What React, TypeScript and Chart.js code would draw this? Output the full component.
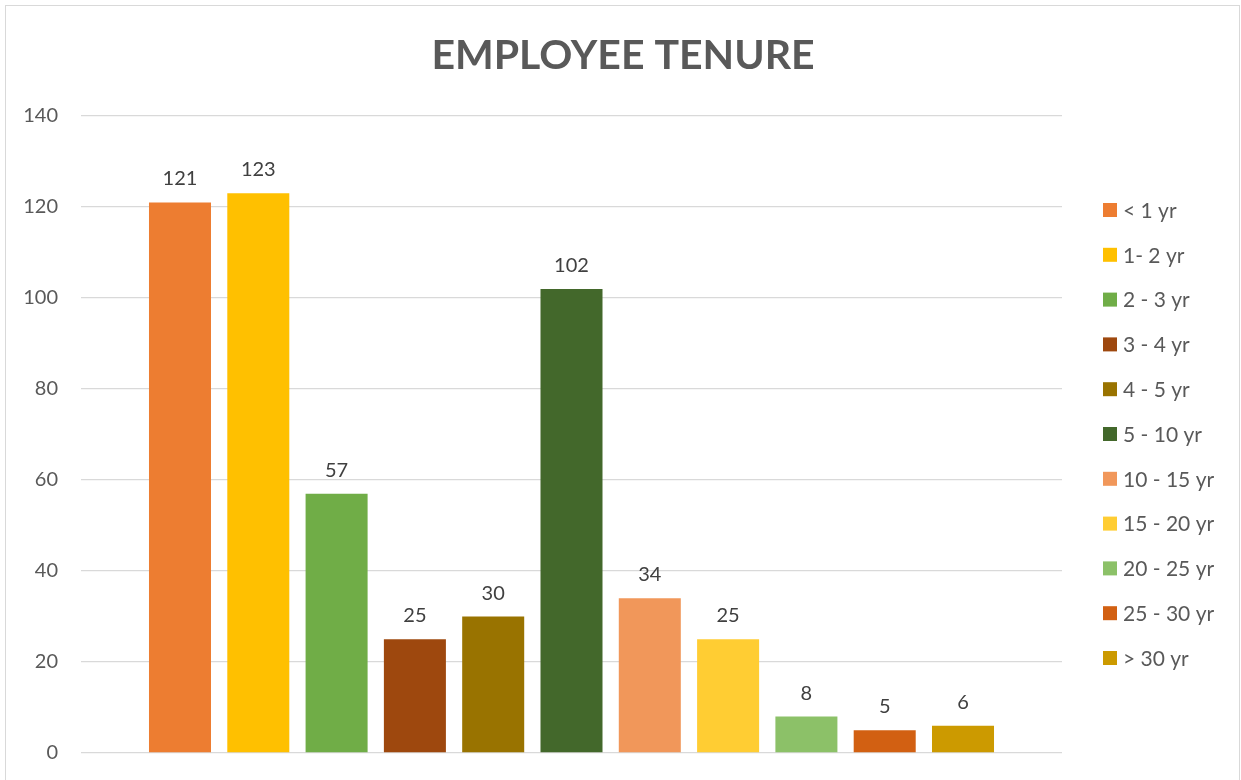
import React, { useEffect, useRef } from "react";
import { Chart, registerables } from "chart.js";

Chart.register(...registerables);

const seriesNames = [
  "< 1 yr",
  "1- 2 yr",
  "2 - 3 yr",
  "3 - 4 yr",
  "4 - 5 yr",
  "5 - 10 yr",
  "10 - 15 yr",
  "15 - 20 yr",
  "20 - 25 yr",
  "25 - 30 yr",
  "> 30 yr",
];
const seriesValues = [121, 123, 57, 25, 30, 102, 34, 25, 8, 5, 6];
const seriesColors = [
  "#ED7D31",
  "#FFC000",
  "#70AD47",
  "#9E480E",
  "#997300",
  "#43682B",
  "#F1975A",
  "#FFCD33",
  "#8CC168",
  "#D26012",
  "#CC9A00",
];
const categories = [""];
const yTicks = { min: 0, max: 140, step: 20 };
const chartTitle = "EMPLOYEE TENURE";

const FONT = "Lato, 'Open Sans', sans-serif";

const decorPlugin = {
  id: "decor",
  beforeDraw(chart: any) {
    const ctx = chart.ctx;
    ctx.save();
    ctx.fillStyle = "#ffffff";
    ctx.fillRect(0, 0, chart.width, chart.height);
    ctx.strokeStyle = "#d9d9d9";
    ctx.lineWidth = 1;
    ctx.strokeRect(5.5, 5.5, 1234, 800);
    ctx.restore();
  },
  afterDraw(chart: any) {
    const ctx = chart.ctx;
    ctx.save();
    // title
    ctx.fillStyle = "#595959";
    ctx.font = `bold 41px ${FONT}`;
    ctx.textAlign = "center";
    ctx.textBaseline = "alphabetic";
    ctx.fillText(chartTitle, 623, 69);
    // legend
    ctx.font = `21px ${FONT}`;
    ctx.textAlign = "left";
    ctx.textBaseline = "middle";
    chart.data.datasets.forEach((ds: any, i: number) => {
      const cy = 210 + i * 44.8;
      ctx.fillStyle = ds.backgroundColor;
      ctx.fillRect(1103, cy - 7, 14, 14);
      ctx.fillStyle = "#595959";
      ctx.fillText(ds.label, 1123, cy + 1);
    });
    ctx.restore();
  },
  afterDatasetsDraw(chart: any) {
    const ctx = chart.ctx;
    ctx.save();
    ctx.fillStyle = "#404040";
    ctx.font = `20px ${FONT}`;
    ctx.textAlign = "center";
    ctx.textBaseline = "alphabetic";
    chart.data.datasets.forEach((ds: any, i: number) => {
      const meta = chart.getDatasetMeta(i);
      meta.data.forEach((bar: any, j: number) => {
        ctx.fillText(String(ds.data[j]), bar.x, bar.y - 17);
      });
    });
    ctx.restore();
  },
};

export default function App() {
  const ref = useRef<HTMLCanvasElement>(null);
  useEffect(() => {
    if (!ref.current) return;
    const chart = new Chart(ref.current, {
      type: "bar",
      data: {
        labels: categories,
        datasets: seriesNames.map((name, i) => ({
          label: name,
          data: [seriesValues[i]],
          backgroundColor: seriesColors[i],
          borderWidth: 0,
          categoryPercentage: 0.878,
          barPercentage: 0.792,
        })),
      },
      options: {
        responsive: false,
        animation: false,
        layout: { padding: { left: 0, top: 116, right: 179, bottom: 20 } },
        plugins: {
          legend: { display: false },
          title: { display: false },
          tooltip: { enabled: false },
        },
        scales: {
          x: { display: false },
          y: {
            min: yTicks.min,
            max: yTicks.max,
            ticks: {
              stepSize: yTicks.step,
              padding: 23,
              color: "#595959",
              font: { family: FONT, size: 20 },
            },
            grid: { color: "#d9d9d9", lineWidth: 1.3, drawTicks: false },
            border: { display: false },
            afterFit: (scale: any) => {
              scale.width = 81;
            },
          },
        },
      },
      plugins: [decorPlugin],
    });
    return () => chart.destroy();
  }, []);
  return (
    <div
      style={{
        position: "fixed",
        left: 0,
        top: 0,
        width: 1241,
        height: 780,
        overflow: "hidden",
        background: "#fff",
      }}
    >
      <canvas ref={ref} width={1241} height={788} style={{ display: "block" }} />
    </div>
  );
}
